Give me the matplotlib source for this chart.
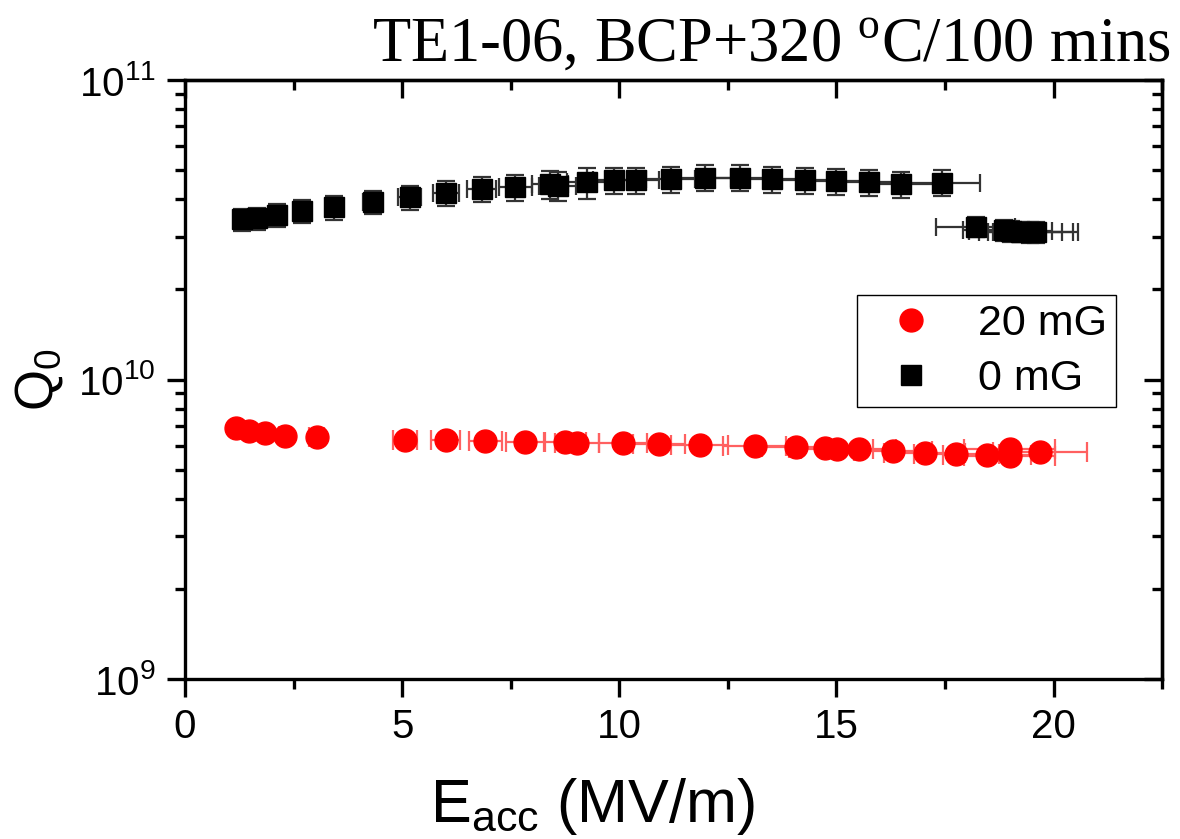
import matplotlib.pyplot as plt
from matplotlib.lines import Line2D
from matplotlib.ticker import LogLocator, MultipleLocator, NullFormatter

plt.rcParams['font.family'] = ['Liberation Sans', 'DejaVu Sans']
plt.rcParams['mathtext.fontset'] = 'custom'
plt.rcParams['mathtext.rm'] = 'Liberation Sans'

# 0 mG series (black squares)
e_acc_0mg = [1.31, 1.65, 2.11, 2.70, 3.44, 4.32, 5.17, 6.00, 6.83, 7.61, 8.40, 8.58,
             9.26, 9.89, 10.39, 11.18, 11.97, 12.77, 13.51, 14.27, 15.00, 15.76, 16.49,
             17.43, 18.21, 18.85, 19.01, 19.24, 19.47, 19.59]
e_err_0mg = [0.07, 0.08, 0.11, 0.14, 0.17, 0.22, 0.26, 0.30, 0.34, 0.38, 0.42, 0.43,
             0.46, 0.49, 0.52, 0.56, 0.60, 0.64, 0.68, 0.71, 0.75, 0.79, 0.82,
             0.87, 0.91, 0.94, 0.95, 0.96, 0.97, 0.98]
q0_0mg = [3.43e10, 3.45e10, 3.54e10, 3.66e10, 3.76e10, 3.91e10, 4.06e10, 4.19e10,
          4.32e10, 4.38e10, 4.49e10, 4.43e10, 4.55e10, 4.63e10, 4.63e10, 4.67e10,
          4.72e10, 4.72e10, 4.67e10, 4.63e10, 4.60e10, 4.56e10, 4.50e10, 4.54e10,
          3.24e10, 3.15e10, 3.13e10, 3.12e10, 3.10e10, 3.10e10]
q0_rel_err_0mg = [0.085, 0.085, 0.085, 0.09, 0.09, 0.09, 0.09, 0.095, 0.095, 0.10, 0.105,
                  0.11, 0.12, 0.10, 0.10, 0.10, 0.10, 0.10, 0.10, 0.10, 0.10, 0.10, 0.10,
                  0.10, 0.08, 0.08, 0.08, 0.08, 0.08, 0.08]

# 20 mG series (red circles)
e_acc_20mg = [1.18, 1.47, 1.84, 2.30, 3.03, 5.07, 6.00, 6.91, 7.83, 8.76, 9.03, 10.08,
              10.91, 11.85, 13.12, 14.06, 14.73, 15.02, 15.52, 16.30, 17.03, 17.76,
              18.47, 18.99, 18.99, 19.68]
e_err_20mg = [0.06, 0.08, 0.10, 0.13, 0.17, 0.28, 0.33, 0.38, 0.43, 0.48, 0.50, 0.55,
              0.60, 0.65, 0.72, 0.77, 0.81, 0.83, 0.85, 0.90, 0.94, 0.98,
              1.02, 1.04, 1.04, 1.08]
q0_20mg = [6.90e9, 6.75e9, 6.61e9, 6.49e9, 6.41e9, 6.28e9, 6.28e9, 6.23e9, 6.20e9,
           6.17e9, 6.15e9, 6.12e9, 6.08e9, 6.04e9, 6.00e9, 5.94e9, 5.89e9, 5.85e9,
           5.85e9, 5.76e9, 5.70e9, 5.64e9, 5.59e9, 5.86e9, 5.56e9, 5.74e9]

x_major = [0, 5, 10, 15, 20]

fig = plt.figure(figsize=(11.8, 8.39), dpi=100)
ax = fig.add_axes([0.1568, 0.1907, 0.8280, 0.7139])
ax.set_yscale('log')
ax.set_xlim(0, 22.5)
ax.set_ylim(1e9, 1e11)

yerr_0mg = [[q * r for q, r in zip(q0_0mg, q0_rel_err_0mg)],
            [q * r for q, r in zip(q0_0mg, q0_rel_err_0mg)]]
ax.errorbar(e_acc_0mg, q0_0mg, xerr=e_err_0mg, yerr=yerr_0mg, fmt='none',
            ecolor='#333333', elinewidth=1.6, capsize=6.5, capthick=1.6, zorder=2)
ax.plot(e_acc_0mg, q0_0mg, 's', color='black', ms=14.5, zorder=3)

ax.errorbar(e_acc_20mg, q0_20mg, xerr=e_err_20mg, fmt='none',
            ecolor='#ff6060', elinewidth=1.6, capsize=7, capthick=1.6, zorder=2)
ax.plot(e_acc_20mg, q0_20mg, 'o', color='#ff0000', ms=16.5, zorder=3)

for side in ['left', 'bottom', 'top', 'right']:
    ax.spines[side].set_linewidth(2.4)

ax.xaxis.set_major_locator(MultipleLocator(5))
ax.xaxis.set_minor_locator(MultipleLocator(2.5))
ax.yaxis.set_major_locator(LogLocator(base=10))
ax.yaxis.set_minor_locator(LogLocator(base=10, subs=range(2, 10)))
ax.yaxis.set_minor_formatter(NullFormatter())
ax.tick_params(which='major', direction='out', length=13, width=2.4, labelsize=29, pad=8)
ax.tick_params(which='minor', direction='out', length=7, width=2.4)
ax.tick_params(top=False, right=False, which='both')

secx = ax.secondary_xaxis('top')
secx.set_xticks(x_major)
secx.xaxis.set_minor_locator(MultipleLocator(2.5))
secx.tick_params(which='major', direction='in', length=13, width=2.4, labeltop=False)
secx.tick_params(which='minor', direction='in', length=7, width=2.4)
secx.spines['top'].set_linewidth(2.4)

secy = ax.secondary_yaxis('right')
secy.yaxis.set_major_locator(LogLocator(base=10))
secy.yaxis.set_minor_locator(LogLocator(base=10, subs=range(2, 10)))
secy.tick_params(which='major', direction='in', length=13, width=2.4, labelright=False)
secy.tick_params(which='minor', direction='in', length=7, width=2.4, labelright=False)
secy.spines['right'].set_linewidth(2.4)

handles = [
    Line2D([], [], marker='o', color='#ff0000', ls='none', ms=16.5),
    Line2D([], [], marker='s', color='black', ls='none', ms=14.5),
]
ax.legend(handles, ['20 mG', '0 mG'], loc='upper left', bbox_to_anchor=(0.688, 0.641),
          borderaxespad=0, fontsize=31, frameon=True, fancybox=False,
          edgecolor='black', framealpha=1, labelspacing=0.35, handletextpad=0.5,
          borderpad=0.2, handlelength=2.1)

ax.set_ylabel(r'$\mathregular{Q_0}$', fontsize=38, labelpad=10)
fig.text(0.502, 0.02, r'$\mathregular{E_{acc}}$ (MV/m)', fontsize=44, ha='center',
         va='baseline')
fig.text(0.992, 0.926, r'TE1-06, BCP+320 $^{\mathregular{o}}$C/100 mins',
         family=['Liberation Serif', 'DejaVu Serif'], fontsize=45, ha='right',
         va='baseline')

fig.savefig('out.png', dpi=100)
